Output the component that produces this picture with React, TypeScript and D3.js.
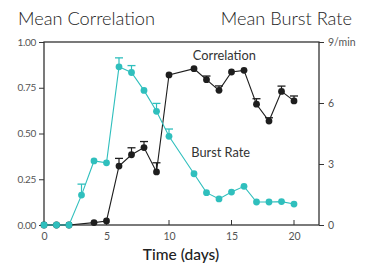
import React, { useEffect, useRef } from 'react';
import * as d3 from 'd3';

// correlation (left axis, 0..1)
const corrDays = [0, 1, 2, 4, 5, 6, 7, 8, 9, 10, 12, 13, 14, 15, 16, 17, 18, 19, 20];
const corrValues = [0, 0, 0, 0.013, 0.022, 0.322, 0.384, 0.423, 0.29, 0.82, 0.854, 0.794, 0.736, 0.836, 0.845, 0.66, 0.568, 0.73, 0.678];
const corrErrors = [0, 0, 0, 0, 0, 0.042, 0.038, 0.033, 0.05, 0, 0, 0.02, 0.024, 0, 0, 0.03, 0.018, 0.029, 0.027];

// burst rate (right axis, per min)
const burstDays = [0, 1, 2, 3, 4, 5, 6, 7, 8, 9, 10, 12, 13, 14, 15, 16, 17, 18, 19, 20];
const burstValues = [0, 0, 0, 1.47, 3.15, 3.06, 7.78, 7.5, 6.62, 5.59, 4.36, 2.52, 1.59, 1.28, 1.62, 1.9, 1.13, 1.13, 1.15, 1.03];
const burstErrors = [0, 0, 0, 0.54, 0, 0, 0.44, 0.34, 0, 0.39, 0.36, 0, 0, 0, 0, 0, 0, 0, 0, 0];

const xTicks = [0, 5, 10, 15, 20];
const leftTicks = [0, 0.25, 0.5, 0.75, 1];
const rightTicks = [0, 3, 6, 9];

const App: React.FC = () => {
  const svgRef = useRef<SVGSVGElement>(null);

  useEffect(() => {
    if (!svgRef.current) return;
    d3.select(svgRef.current).selectAll("*").remove();

    const width = 366;
    const height = 264;
    const margin = { top: 42, right: 47, bottom: 39, left: 44 };
    const innerWidth = width - margin.left - margin.right;
    const innerHeight = height - margin.top - margin.bottom;
    const font = "Lato, 'Open Sans', sans-serif";
    const cyan = "#2fbfbd";
    const dark = "#1e1e1e";
    const tickColor = "#555";

    const svg = d3.select(svgRef.current)
      .attr("width", width)
      .attr("height", height);

    const g = svg.append("g")
      .attr("transform", `translate(${margin.left},${margin.top})`);

    const xScale = d3.scaleLinear().domain([0, 22]).range([0, innerWidth]);
    const yLeft = d3.scaleLinear().domain([0, 1]).range([innerHeight, 0]);
    const yRight = d3.scaleLinear().domain([0, 9]).range([innerHeight, 0]);

    // Titles
    svg.append("text")
      .attr("x", 18)
      .attr("y", 25)
      .attr("font-family", font)
      .attr("font-size", "18.2px")
      .attr("font-weight", 300)
      .attr("fill", "#222")
      .text("Mean Correlation");

    svg.append("text")
      .attr("x", 352)
      .attr("y", 25)
      .attr("text-anchor", "end")
      .attr("font-family", font)
      .attr("font-size", "18.2px")
      .attr("font-weight", 300)
      .attr("fill", "#222")
      .text("Mean Burst Rate");

    // Frame
    g.append("rect")
      .attr("width", innerWidth)
      .attr("height", innerHeight)
      .attr("fill", "none")
      .attr("stroke", "#333")
      .attr("stroke-width", 1.3);

    // X axis (ticks pointing inward)
    const xAxis = g.append("g")
      .attr("transform", `translate(0,${innerHeight})`)
      .call(d3.axisBottom(xScale).tickValues(xTicks).tickSize(0).tickPadding(8).tickFormat(d => `${d}`));
    xAxis.select(".domain").remove();
    xAxis.selectAll("text")
      .attr("font-family", font)
      .attr("font-size", "10.5px")
      .attr("fill", tickColor);
    g.selectAll(".xtick")
      .data(xTicks.filter(d => d > 0))
      .enter()
      .append("line")
      .attr("x1", d => xScale(d))
      .attr("x2", d => xScale(d))
      .attr("y1", innerHeight)
      .attr("y2", innerHeight - 5)
      .attr("stroke", "#333");

    // Left axis
    const yAxisL = g.append("g")
      .call(d3.axisLeft(yLeft).tickValues(leftTicks).tickSize(5).tickPadding(3).tickFormat(d => d3.format(".2f")(d as number)));
    yAxisL.select(".domain").remove();
    yAxisL.selectAll("line").attr("stroke", "#333");
    yAxisL.selectAll("text")
      .attr("font-family", font)
      .attr("font-size", "10px")
      .attr("letter-spacing", "-0.3px")
      .attr("fill", tickColor);

    // Right axis
    const yAxisR = g.append("g")
      .attr("transform", `translate(${innerWidth},0)`)
      .call(d3.axisRight(yRight).tickValues(rightTicks).tickSize(5).tickPadding(4).tickFormat(d => d === 9 ? "9/min" : `${d}`));
    yAxisR.select(".domain").remove();
    yAxisR.selectAll("line").attr("stroke", "#333");
    yAxisR.selectAll("text")
      .attr("font-family", font)
      .attr("font-size", "10.5px")
      .attr("fill", tickColor);

    const corrData = corrDays.map((d, i) => ({ day: d, value: corrValues[i], err: corrErrors[i] }));
    const burstData = burstDays.map((d, i) => ({ day: d, value: burstValues[i], err: burstErrors[i] }));

    const drawSeries = (data: any[], y: d3.ScaleLinear<number, number>, color: string, width: number) => {
      const series = g.append("g");
      const bars = data.filter(d => d.err > 0);
      series.selectAll(".err")
        .data(bars)
        .enter()
        .append("line")
        .attr("x1", d => xScale(d.day))
        .attr("x2", d => xScale(d.day))
        .attr("y1", d => y(d.value))
        .attr("y2", d => y(d.value + d.err))
        .attr("stroke", color)
        .attr("stroke-width", 1.2);
      series.selectAll(".cap")
        .data(bars)
        .enter()
        .append("line")
        .attr("x1", d => xScale(d.day) - 4)
        .attr("x2", d => xScale(d.day) + 4)
        .attr("y1", d => y(d.value + d.err))
        .attr("y2", d => y(d.value + d.err))
        .attr("stroke", color)
        .attr("stroke-width", 1.3);

      const line = d3.line<any>()
        .x(d => xScale(d.day))
        .y(d => y(d.value));
      series.append("path")
        .datum(data)
        .attr("fill", "none")
        .attr("stroke", color)
        .attr("stroke-width", width)
        .attr("d", line);

      series.selectAll(".dot")
        .data(data)
        .enter()
        .append("circle")
        .attr("cx", d => xScale(d.day))
        .attr("cy", d => y(d.value))
        .attr("r", 3.4)
        .attr("fill", color);
    };

    drawSeries(corrData, yLeft, dark, 1.1);
    drawSeries(burstData, yRight, cyan, 1.1);

    // Series labels
    g.append("text")
      .attr("x", xScale(14.43))
      .attr("y", yLeft(0.9))
      .attr("text-anchor", "middle")
      .attr("font-family", font)
      .attr("font-size", "12.8px")
      .attr("fill", "#333")
      .text("Correlation");

    g.append("text")
      .attr("x", xScale(11.78))
      .attr("y", yRight(3.34))
      .attr("font-family", font)
      .attr("font-size", "12.8px")
      .attr("fill", "#333")
      .text("Burst Rate");

    // X axis label
    svg.append("text")
      .attr("x", 181)
      .attr("y", 260)
      .attr("text-anchor", "middle")
      .attr("font-family", font)
      .attr("font-size", "15.5px")
      .attr("font-weight", 500)
      .attr("fill", "#222")
      .text("Time (days)");
  }, []);

  return (
    <div style={{ position: 'absolute', left: 0, top: 0, background: '#fff' }}>
      <svg ref={svgRef} style={{ display: 'block' }}></svg>
    </div>
  );
};

export default App;
